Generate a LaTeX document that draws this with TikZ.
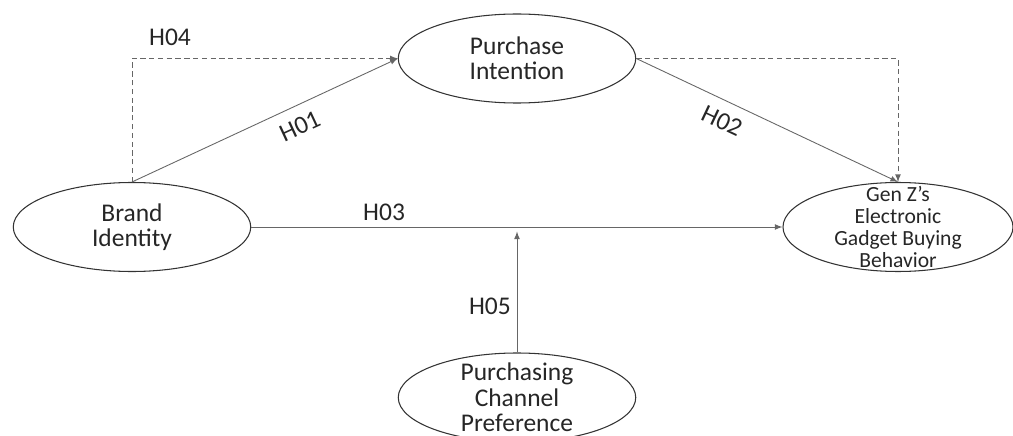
\documentclass[tikz,border=0pt]{standalone}
\usepackage{fontspec}
\setmainfont{Carlito}
\usetikzlibrary{positioning, shapes.geometric}

\tikzset{
    var/.style={shape=ellipse, draw=black!80, line width=0.6pt, minimum width=4.75cm, minimum height=1.78cm, inner sep=0pt},
    vartext/.style={align=center, font=\fontsize{14.5}{14.5}\selectfont, text=black!85},
    gztext/.style={align=center, font=\fontsize{12.3}{12.5}\selectfont, text=black!85},
    hyp/.style={font=\fontsize{14.5}{14.5}\selectfont, text=black!85},
    link/.style={color=black!60, line width=0.5pt},
}

\begin{document}
\begin{tikzpicture}[>=latex]
        \useasboundingbox (0,0) rectangle (20.26,-8.72);

        \node[var, label={[vartext]center:Brand\\Identity}] (brand) at (2.64,-4.54) {};
        \node[var, label={[vartext]center:Purchase\\Intention}] (pi) at (10.34,-1.17) {};
        \node[var, minimum width=4.6cm, label={[gztext]center:Gen Z’s\\Electronic\\Gadget Buying\\Behavior}] (genz) at (17.96,-4.54) {};
        \node[var, label={[vartext]center:Purchasing\\Channel\\Preference}] (pcp) at (10.34,-7.95) {};
        \coordinate (mod) at (10.34,-4.63);

        \path[->] (brand.north) edge[link] node[hyp, sloped, below=3pt, pos=0.6] {H01} (pi.west);
        \path[->] (pi.east) edge[link] node[hyp, sloped, below=3pt, pos=0.36] {H02} (genz.north);
        \path[->] (brand.east) edge[link] node[hyp, above, pos=0.25] {H03} (genz.west);
        \path[->] (pcp.north) edge[link] node[hyp, left, pos=0.38] {H05} (mod);

        \draw[->, link, densely dashed] (brand.north) |- (pi.west);
        \draw[->, link, densely dashed] (pi.east) -| (genz.north);
        \node[hyp] (h04) at (3.4,-0.74) {H04};

    \end{tikzpicture}
\end{document}
